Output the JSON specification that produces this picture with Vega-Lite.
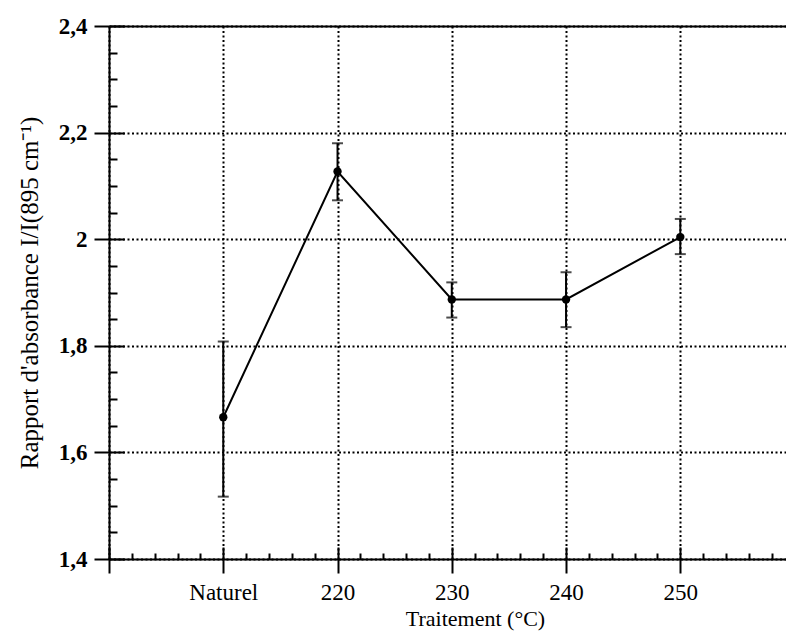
{
  "$schema": "https://vega.github.io/schema/vega-lite/v6.json",
  "width": 677,
  "height": 533,
  "autosize": "none",
  "padding": {"left": 109, "top": 26, "right": 0, "bottom": 84},
  "background": "white",
  "config": {
    "view": {"stroke": null},
    "axis": {"labelFont": "Liberation Serif", "titleFont": "Liberation Serif", "labelColor": "black", "titleColor": "black", "domainColor": "black", "tickColor": "black", "domainWidth": 2, "tickWidth": 2}
  },
  "data": {
    "values": [
      {"traitement": "Naturel", "pos": 210, "ratio": 1.666, "lo": 1.517, "hi": 1.808},
      {"traitement": "220", "pos": 220, "ratio": 2.127, "lo": 2.073, "hi": 2.180},
      {"traitement": "230", "pos": 230, "ratio": 1.887, "lo": 1.853, "hi": 1.919},
      {"traitement": "240", "pos": 240, "ratio": 1.887, "lo": 1.835, "hi": 1.938},
      {"traitement": "250", "pos": 250, "ratio": 2.004, "lo": 1.972, "hi": 2.038}
    ]
  },
  "resolve": {"axis": {"x": "independent", "y": "independent"}},
  "layer": [
    {
      "mark": {"type": "rule", "color": "black", "strokeWidth": 2},
      "encoding": {
        "x": {"field": "pos", "type": "quantitative",
          "scale": {"domain": [200, 259.25], "nice": false, "zero": false},
          "axis": {"orient": "bottom", "values": [200, 210, 220, 230, 240, 250],
            "labelExpr": "datum.value == 200 ? '' : datum.value == 210 ? 'Naturel' : format(datum.value, 'd')",
            "labelFontSize": 23, "labelPadding": 8, "tickSize": 14, "domain": true,
            "grid": true, "gridColor": "black", "gridDash": [2, 2.5], "gridWidth": 2, "gridOpacity": 1,
            "title": "Traitement (°C)", "titleFontSize": 22, "titleFontWeight": "normal", "titlePadding": 4,
            "titleX": 366, "titleAlign": "center", "labelFlush": false, "labelOverlap": false}},
        "y": {"field": "lo", "type": "quantitative",
          "scale": {"domain": [1.4, 2.4], "nice": false, "zero": false},
          "axis": {"orient": "left", "values": [1.4, 1.6, 1.8, 2.0, 2.2, 2.4],
            "labelExpr": "replace(format(datum.value, '.1~f'), '.', ',')",
            "labelFontSize": 23, "labelFontWeight": "bold", "labelPadding": 7, "tickSize": 15, "domain": true,
            "grid": true, "gridColor": "black", "gridDash": [2, 2.5], "gridWidth": 2, "gridOpacity": 1,
            "title": "Rapport d'absorbance I/I(895 cm⁻¹)", "titleFontSize": 25, "titleFontWeight": "normal", "titlePadding": 16,
            "labelFlush": false, "labelOverlap": false}},
        "y2": {"field": "hi"}
      }
    },
    {
      "mark": {"type": "tick", "orient": "horizontal", "color": "black", "size": 11, "thickness": 2},
      "encoding": {
        "x": {"field": "pos", "type": "quantitative",
          "scale": {"domain": [200, 259.25], "nice": false, "zero": false},
          "axis": {"orient": "bottom", "values": [200, 210, 220, 230, 240, 250], "labels": false, "tickSize": -12, "domain": false, "grid": false, "title": null}},
        "y": {"field": "lo", "type": "quantitative",
          "scale": {"domain": [1.4, 2.4], "nice": false, "zero": false},
          "axis": {"orient": "left", "values": [1.4, 1.6, 1.8, 2.0, 2.2, 2.4], "labels": false, "tickSize": -15, "domain": false, "grid": false, "title": null}}
      }
    },
    {
      "mark": {"type": "tick", "orient": "horizontal", "color": "black", "size": 11, "thickness": 2},
      "encoding": {
        "x": {"field": "pos", "type": "quantitative",
          "scale": {"domain": [200, 259.25], "nice": false, "zero": false},
          "axis": {"orient": "bottom", "values": [202, 204, 206, 208, 212, 214, 216, 218, 222, 224, 226, 228, 232, 234, 236, 238, 242, 244, 246, 248, 252, 254, 256, 258], "labels": false, "tickSize": -6, "domain": false, "grid": false, "title": null}},
        "y": {"field": "hi", "type": "quantitative",
          "scale": {"domain": [1.4, 2.4], "nice": false, "zero": false},
          "axis": {"orient": "left", "values": [1.45, 1.5, 1.55, 1.65, 1.7, 1.75, 1.85, 1.9, 1.95, 2.05, 2.1, 2.15, 2.25, 2.3, 2.35], "labels": false, "tickSize": -8, "domain": false, "grid": false, "title": null}}
      }
    },
    {
      "mark": {"type": "line", "color": "black", "strokeWidth": 2},
      "encoding": {
        "x": {"field": "pos", "type": "quantitative",
          "scale": {"domain": [200, 259.25], "nice": false, "zero": false},
          "axis": {"orient": "top", "values": [], "labels": false, "ticks": false, "domain": true, "grid": false, "title": null}},
        "y": {"field": "ratio", "type": "quantitative",
          "scale": {"domain": [1.4, 2.4], "nice": false, "zero": false}, "axis": null}
      }
    },
    {
      "mark": {"type": "point", "filled": true, "color": "black", "opacity": 1, "size": 70},
      "encoding": {
        "x": {"field": "pos", "type": "quantitative", "scale": {"domain": [200, 259.25], "nice": false, "zero": false}, "axis": null},
        "y": {"field": "ratio", "type": "quantitative", "scale": {"domain": [1.4, 2.4], "nice": false, "zero": false}, "axis": null}
      }
    }
  ]
}
